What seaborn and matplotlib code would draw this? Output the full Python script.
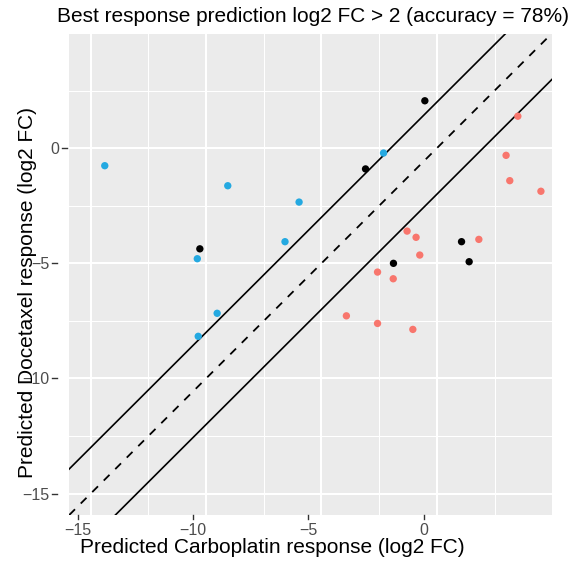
import pandas as pd
import seaborn as sns
import matplotlib.pyplot as plt
from matplotlib import transforms

# Predicted responses (log2 FC)
carbo = [3.51, 3.00, 3.16, 4.51, -1.29, -0.90, -0.74, 1.82, -2.57, -1.89, -3.92, -2.57, -1.04,
         -14.39, -9.06, -5.97, -6.58, -10.38, -9.52, -10.34, -2.31,
         -0.52, -3.09, -1.88, 1.07, 1.40, -10.27]
doce = [1.39, -0.31, -1.41, -1.87, -3.60, -3.87, -4.64, -3.96, -5.38, -5.67, -7.28, -7.61, -7.87,
        -0.76, -1.63, -2.34, -4.06, -4.80, -7.17, -8.17, -0.21,
        2.06, -0.90, -5.00, -4.06, -4.93, -4.37]
group = ["Carboplatin"] * 13 + ["Docetaxel"] * 8 + ["Wrong"] * 6

x_ticks = [-15, -10, -5, 0]
x_tick_labels = ["\u221215", "\u221210", "\u22125", "0"]
y_ticks = [0, -5, -10, -15]
y_tick_labels = ["0", "\u22125", "\u221210", "\u221215"]
cutoff = 2

df = pd.DataFrame({"carbo": carbo, "doce": doce, "group": group})

plt.rcParams['font.family'] = ['Liberation Sans', 'DejaVu Sans']

W, H = 578, 571
fig = plt.figure(figsize=(W / 100, H / 100), dpi=100)
left, right, top, bottom = 69, 552, 34, 515
ax = fig.add_axes([left / W, 1 - bottom / H, (right - left) / W, (bottom - top) / H])
ax.set_facecolor('#EBEBEB')
for s in ax.spines.values():
    s.set_visible(False)

ax.set_xlim(-15.94, 4.99)
ax.set_ylim(-15.93, 4.96)
ax.set_xticks(x_ticks)
ax.set_xticks([-12.5, -7.5, -2.5, 2.5], minor=True)
ax.set_yticks(y_ticks)
ax.set_yticks([-12.5, -7.5, -2.5, 2.5], minor=True)
ax.tick_params(which='both', length=0, labelbottom=False, labelleft=False)
ax.grid(which='major', color='white', lw=1.5)
ax.grid(which='minor', color='white', lw=0.75)
ax.set_axisbelow(True)

# reference lines
ax.axline((0, 0), slope=1, color='black', lw=1.3, ls=(0, (4.5, 4.5)))
ax.axline((0, cutoff), slope=1, color='black', lw=1.2)
ax.axline((0, -cutoff), slope=1, color='black', lw=1.2)

sns.scatterplot(data=df, x="carbo", y="doce", hue="group",
                palette={"Carboplatin": "#F8766D", "Docetaxel": "#24A9E1", "Wrong": "black"},
                s=28, linewidth=0, legend=False, ax=ax, zorder=3)
ax.set_xlabel("")
ax.set_ylabel("")

# axis ticks and labels (drawn slightly shifted, as in the reference)
px = lambda dx, dy: transforms.ScaledTranslation(dx / 100, dy / 100, fig.dpi_scale_trans)
xt = transforms.blended_transform_factory(ax.transData, ax.transAxes)
for v, lab in zip(x_ticks, x_tick_labels):
    ax.plot([v, v], [0, -4 / 481], color='#333333', lw=1.0, clip_on=False,
            transform=xt + px(-13, 0))
    ax.text(v, 0, lab, transform=xt + px(-13, -20), ha='center', va='baseline',
            fontsize=11.5, color='#4D4D4D')

yt = transforms.blended_transform_factory(ax.transAxes, ax.transData)
for v, lab in zip(y_ticks, y_tick_labels):
    dx = 0 if v == 0 else -10
    ax.plot([-7 / 483, -2 / 483], [v, v], color='#333333', lw=1.0, clip_on=False,
            transform=yt + px(dx, 0))
    ax.text(0, v, lab, transform=yt + px(dx - 10, 0), ha='right', va='center_baseline',
            fontsize=11.5, color='#4D4D4D')

fig.text(57 / W, 1 - 22 / H, "Best response prediction log2 FC > 2 (accuracy = 78%)",
         ha='left', va='baseline', fontsize=15)
fig.text(272 / W, 1 - 553 / H, "Predicted Carboplatin response (log2 FC)",
         ha='center', va='baseline', fontsize=15)
fig.text(33 / W, 1 - 292 / H, "Predicted Docetaxel response (log2 FC)",
         ha='center', va='baseline', rotation=90, rotation_mode='anchor', fontsize=15)

fig.savefig("out.png", dpi=100, facecolor='white')
